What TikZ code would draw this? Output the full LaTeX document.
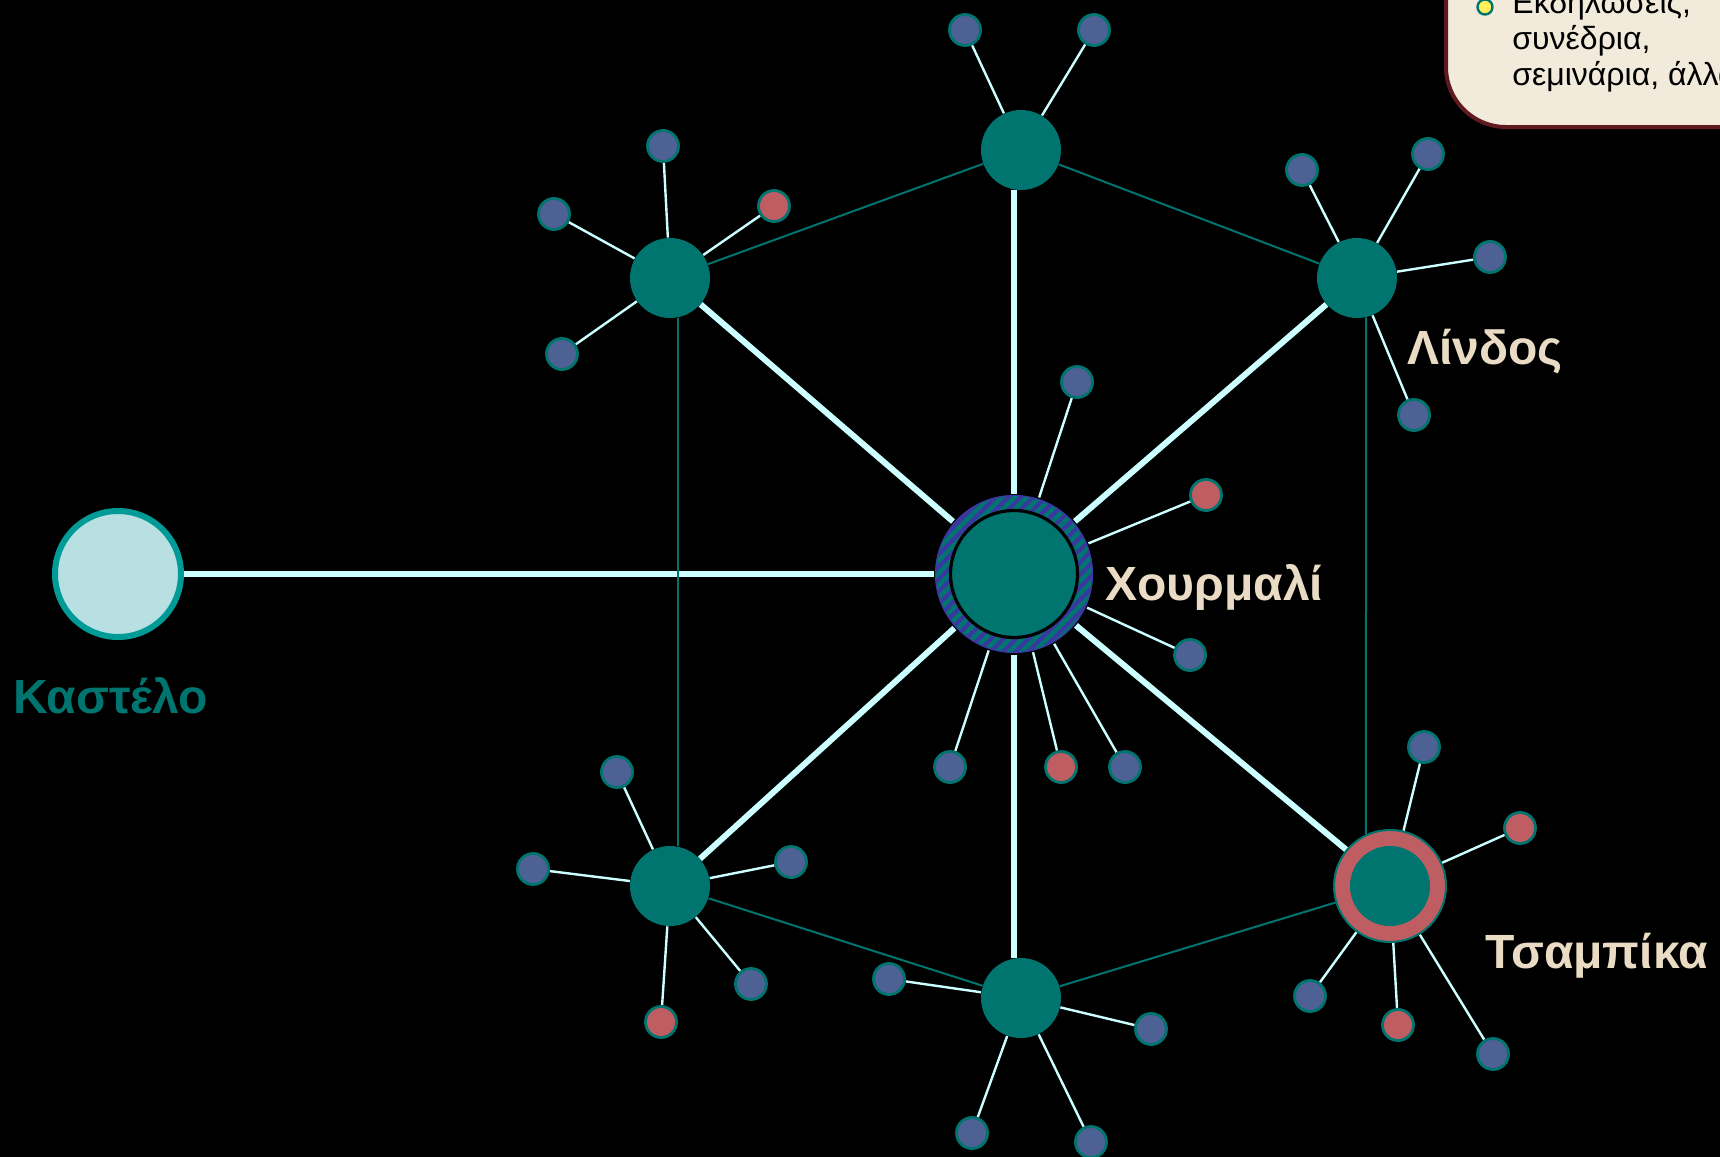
\documentclass[tikz,border=0pt]{standalone}
\usepackage{fontspec}
\setmainfont{Liberation Sans}
\usetikzlibrary{patterns.meta}
\definecolor{hubteal}{RGB}{0,117,112}
\definecolor{leafblue}{RGB}{77,97,148}
\definecolor{leafred}{RGB}{190,94,98}
\definecolor{linkcyan}{RGB}{204,255,255}
\definecolor{stripeblue}{RGB}{58,56,160}
\definecolor{castfill}{RGB}{184,224,227}
\definecolor{castdraw}{RGB}{0,155,150}
\definecolor{labelbeige}{RGB}{234,220,196}
\definecolor{boxfill}{RGB}{242,234,219}
\definecolor{boxdraw}{RGB}{94,26,30}
\definecolor{bulletyellow}{RGB}{255,240,90}
\pgfdeclarelayer{back}
\pgfdeclarelayer{links}
\pgfsetlayers{back,links,main}
\tikzset{
	x=0.5pt, y=-0.5pt,
	hub/.style={circle, fill=hubteal, minimum size=40pt, inner sep=0pt},
	leaf/.style={circle, draw=hubteal, line width=1.4pt, fill=leafblue, minimum size=15.5pt, inner sep=0pt},
	redleaf/.style={leaf, fill=leafred},
	spoke/.style={draw=linkcyan, line width=3pt},
	twig/.style={draw=linkcyan, line width=1.2pt},
	rim/.style={draw=hubteal, line width=1pt},
	place/.style={font=\bfseries\fontsize{24}{27}\selectfont, text=labelbeige, anchor=base west, inner sep=0pt},
}

\begin{document}
\begin{tikzpicture}
		\useasboundingbox (0,0) rectangle (1720,1157);
		\clip (0,0) rectangle (1720,1157);
		\begin{pgfonlayer}{back}
			\fill[black] (0,0) rectangle (1720,1157);
		\end{pgfonlayer}

		% main nodes
		\node[circle, draw=stripeblue, line width=0.6pt, minimum size=78.5pt, inner sep=0pt,
			preaction={fill=hubteal}, pattern={Lines[angle=45, distance=4.4pt, line width=2pt]},
			pattern color=stripeblue] (hourmali) at (1014,574) {};
		\node[circle, fill=hubteal, draw=black, line width=1.6pt, minimum size=63.5pt, inner sep=0pt] (hourmalicore) at (1014,574) {};
		\node[hub] (top) at (1021,150) {};
		\node[hub] (ul) at (670,278) {};
		\node[hub] (lindos) at (1357,278) {};
		\node[hub] (ll) at (670,886) {};
		\node[hub] (bottom) at (1021,998) {};
		\node[circle, draw=hubteal, line width=1pt, fill=leafred, minimum size=56pt, inner sep=0pt] (tsampika) at (1390,886) {};
		\node[hub] (tsampikacore) at (1390,886) {};
		\node[circle, draw=castdraw, fill=castfill, line width=3pt, minimum size=63pt, inner sep=0pt] (kastelo) at (118,574) {};

		% leaves
		\node[leaf] (top1) at (965,30) {};
		\node[leaf] (top2) at (1094,30) {};
		\node[leaf] (ul1) at (663,146) {};
		\node[leaf] (ul2) at (554,214) {};
		\node[redleaf] (ul3) at (774,206) {};
		\node[leaf] (ul4) at (562,354) {};
		\node[leaf] (li1) at (1302,170) {};
		\node[leaf] (li2) at (1428,154) {};
		\node[leaf] (li3) at (1490,257) {};
		\node[leaf] (li4) at (1414,415) {};
		\node[leaf] (ho1) at (1077,382) {};
		\node[redleaf] (ho2) at (1206,495) {};
		\node[leaf] (ho3) at (1190,655) {};
		\node[leaf] (ho4) at (950,767) {};
		\node[redleaf] (ho5) at (1061,767) {};
		\node[leaf] (ho6) at (1125,767) {};
		\node[leaf] (ll1) at (617,772) {};
		\node[leaf] (ll2) at (533,869) {};
		\node[leaf] (ll3) at (791,862) {};
		\node[leaf] (ll4) at (751,984) {};
		\node[redleaf] (ll5) at (661,1022) {};
		\node[leaf] (bo1) at (889,979) {};
		\node[leaf] (bo2) at (1151,1029) {};
		\node[leaf] (bo3) at (972,1133) {};
		\node[leaf] (bo4) at (1091,1142) {};
		\node[leaf] (ts1) at (1424,747) {};
		\node[redleaf] (ts2) at (1520,828) {};
		\node[leaf] (ts3) at (1310,996) {};
		\node[redleaf] (ts4) at (1398,1025) {};
		\node[leaf] (ts5) at (1493,1054) {};

		% labels
		\node[place] (hourmalilabel) at (1105,600) {Χουρμαλί};
		\node[place] (lindoslabel) at (1407,364) {Λίνδος};
		\node[place] (tsampikalabel) at (1485,968) {Τσαμπίκα};
		\node[place, text=hubteal] (kastelolabel) at (13,713) {Καστέλο};

		% connections
		\begin{pgfonlayer}{links}
			\draw[spoke] (hourmali) edge (hourmali |- top.south)
			(hourmali) edge (ul)
			(hourmali) edge (lindos)
			(hourmali) edge (ll)
			(hourmali) edge (hourmali |- bottom.north)
			(hourmali) edge (tsampika)
			(hourmali) edge (kastelo);
			\draw[rim] (top) edge (ul)
			(top) edge (lindos)
			(ul.-78) edge (ll.78)
			(lindos.-77) edge (tsampika.115)
			(ll) edge (bottom)
			(bottom) edge (tsampika);
			\draw[twig] (top) edge (top1) (top) edge (top2)
			(ul) edge (ul1) (ul) edge (ul2) (ul) edge (ul3) (ul) edge (ul4)
			(lindos) edge (li1) (lindos) edge (li2) (lindos) edge (li3) (lindos) edge (li4)
			(hourmali) edge (ho1) (hourmali) edge (ho2) (hourmali) edge (ho3)
			(hourmali) edge (ho4) (hourmali) edge (ho5) (hourmali) edge (ho6)
			(ll) edge (ll1) (ll) edge (ll2) (ll) edge (ll3) (ll) edge (ll4) (ll) edge (ll5)
			(bottom) edge (bo1) (bottom) edge (bo2) (bottom) edge (bo3) (bottom) edge (bo4)
			(tsampika) edge (ts1) (tsampika) edge (ts2) (tsampika) edge (ts3)
			(tsampika) edge (ts4) (tsampika) edge (ts5);
		\end{pgfonlayer}

		% note box
		\draw[fill=boxfill, draw=boxdraw, line width=2pt, rounded corners=30pt] (1446,-60) rectangle (1800,127);
		\node[circle, fill=bulletyellow, draw=hubteal, line width=1.2pt, minimum size=7.5pt, inner sep=0pt] (bullet) at (1485,7) {};
		\node[anchor=base west, align=left, inner sep=0pt, font=\fontsize{16}{18}\selectfont] (events) at (1512,85) {Εκδηλώσεις,\\συνέδρια,\\σεμινάρια, άλλα};
	\end{tikzpicture}
\end{document}
